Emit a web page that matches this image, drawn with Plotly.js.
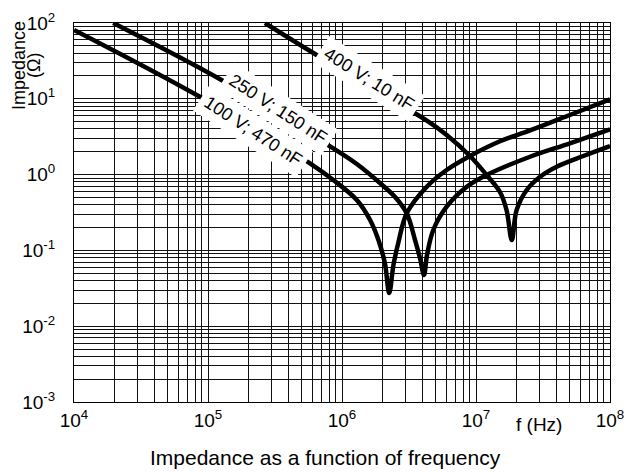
<!DOCTYPE html>
<html>
<head>
<meta charset="utf-8">
<script src="https://cdn.plot.ly/plotly-3.0.1.min.js"></script>
<style>html,body{margin:0;padding:0;background:#fff;}#chart{width:635px;height:472px;}</style>
</head>
<body>
<div id="chart"></div>
<script>
// Curve 1: 100 V; 470 nF
var freqA = [1e4, 8.98e4, 5.77e5, 8.61e5, 1.29e6, 1.62e6, 1.87e6, 2.09e6, 2.25e6, 2.42e6, 2.63e6, 3.04e6, 4.29e6, 6.04e6, 9.02e6, 1.51e7, 2.53e7, 5.02e7, 1e8];
var zA    = [81, 10.3, 1.41, 0.849, 0.462, 0.252, 0.137, 0.0676, 0.0274, 0.064, 0.125, 0.308, 0.692, 1.15, 1.76, 2.75, 3.82, 6.11, 9.85];
// Curve 2: 250 V; 150 nF
var freqB = [1.96e4, 1.26e5, 8.37e5, 1.29e6, 1.92e6, 2.49e6, 3.04e6, 3.51e6, 3.82e6, 4.09e6, 4.31e6, 4.80e6, 6.04e6, 8.53e6, 1.20e7, 2.53e7, 5.02e7, 1e8];
var zB    = [100, 17.7, 2.29, 1.38, 0.774, 0.506, 0.308, 0.137, 0.079, 0.0473, 0.087, 0.186, 0.377, 0.692, 0.988, 1.72, 2.59, 3.96];
// Curve 3: 400 V; 10 nF
var freqC = [2.66e5, 6.47e5, 4.41e6, 6.04e6, 9.02e6, 1.20e7, 1.51e7, 1.69e7, 1.85e7, 2.01e7, 2.39e7, 3.01e7, 4.00e7, 6.32e7, 1e8];
var zC    = [100, 37.8, 4.99, 3.33, 1.76, 0.988, 0.589, 0.341, 0.137, 0.341, 0.627, 0.938, 1.27, 1.76, 2.38];

var seriesNames = ['100 V; 470 nF', '250 V; 150 nF', '400 V; 10 nF'];
var chartTitle = 'Impedance as a function of frequency';
var yTitleLines = ['Impedance', '(\u03A9)'];
var xUnitLabel = 'f (Hz)';

var xTickVals = [1e4, 1e5, 1e6, 1e7, 1e8];
var xTickText = ['10<sup>4</sup>', '10<sup>5</sup>', '10<sup>6</sup>', '10<sup>7</sup>', '10<sup>8</sup>'];
var yTickVals = [1e-3, 1e-2, 1e-1, 1e0, 1e1, 1e2];
var yTickText = ['10<sup>-3</sup>', '10<sup>-2</sup>', '10<sup>-1</sup>', '10<sup>0</sup>', '10<sup>1</sup>', '10<sup>2</sup>'];

var FONT = 'Liberation Sans, Arial, Helvetica, sans-serif';
var lineStyle = {color: '#000', width: 4.5, shape: 'spline', smoothing: 1};

var traces = [
  {x: freqA, y: zA, name: seriesNames[0], mode: 'lines', line: lineStyle, hoverinfo: 'skip'},
  {x: freqB, y: zB, name: seriesNames[1], mode: 'lines', line: lineStyle, hoverinfo: 'skip'},
  {x: freqC, y: zC, name: seriesNames[2], mode: 'lines', line: lineStyle, hoverinfo: 'skip'}
];

function px2x(p) { return (p - 74) / 536; }
function px2y(p) { return (402 - p) / 379; }

var labelFont = {family: FONT, size: 18, color: '#000'};
var annotations = [
  {text: seriesNames[2], xref: 'paper', yref: 'paper', x: px2x(369), y: px2y(79), textangle: 32, showarrow: false, bgcolor: '#fff', borderpad: 5, font: labelFont, xanchor: 'center', yanchor: 'middle'},
  {text: seriesNames[1], xref: 'paper', yref: 'paper', x: px2x(278), y: px2y(109), textangle: 33, showarrow: false, bgcolor: '#fff', borderpad: 5, font: labelFont, xanchor: 'center', yanchor: 'middle'},
  {text: seriesNames[0], xref: 'paper', yref: 'paper', x: px2x(253), y: px2y(131), textangle: 33, showarrow: false, bgcolor: '#fff', borderpad: 5, font: labelFont, xanchor: 'center', yanchor: 'middle'},
  {text: yTitleLines[0], xref: 'paper', yref: 'paper', x: px2x(19), y: px2y(66), textangle: -90, showarrow: false, font: labelFont, xanchor: 'center', yanchor: 'middle'},
  {text: yTitleLines[1], xref: 'paper', yref: 'paper', x: px2x(34), y: px2y(66), textangle: -90, showarrow: false, font: labelFont, xanchor: 'center', yanchor: 'middle'},
  {text: xUnitLabel, xref: 'paper', yref: 'paper', x: px2x(539), y: px2y(424), showarrow: false, font: {family: FONT, size: 19, color: '#000'}, xanchor: 'center', yanchor: 'middle'},
  {text: chartTitle, xref: 'paper', yref: 'paper', x: px2x(325), y: px2y(457), showarrow: false, font: {family: FONT, size: 21, color: '#000'}, xanchor: 'center', yanchor: 'middle'}
];

var gridCol = '#111';
var layout = {
  width: 635, height: 472,
  margin: {l: 74, r: 25, t: 23, b: 70, pad: 0},
  paper_bgcolor: '#fff', plot_bgcolor: '#fff',
  showlegend: false,
  font: {family: FONT, size: 18, color: '#000'},
  xaxis: {
    type: 'log', range: [4, 8], tickmode: 'array', tickvals: xTickVals, ticktext: xTickText,
    showgrid: true, gridcolor: gridCol, gridwidth: 1,
    minor: {dtick: 'D1', showgrid: true, gridcolor: gridCol, gridwidth: 1, ticks: ''},
    showline: true, mirror: true, linecolor: '#000', linewidth: 1,
    ticks: '', ticklabelstandoff: 1, zeroline: false,
    tickfont: {family: FONT, size: 19, color: '#000'}
  },
  yaxis: {
    type: 'log', range: [-3, 2], tickmode: 'array', tickvals: yTickVals, ticktext: yTickText,
    showgrid: true, gridcolor: gridCol, gridwidth: 1,
    minor: {dtick: 'D1', showgrid: true, gridcolor: gridCol, gridwidth: 1, ticks: ''},
    showline: true, mirror: true, linecolor: '#000', linewidth: 1,
    ticks: '', ticklabelstandoff: 14, zeroline: false,
    tickfont: {family: FONT, size: 19, color: '#000'}
  },
  annotations: annotations
};

Plotly.newPlot('chart', traces, layout, {staticPlot: true, displayModeBar: false});
</script>
</body>
</html>
